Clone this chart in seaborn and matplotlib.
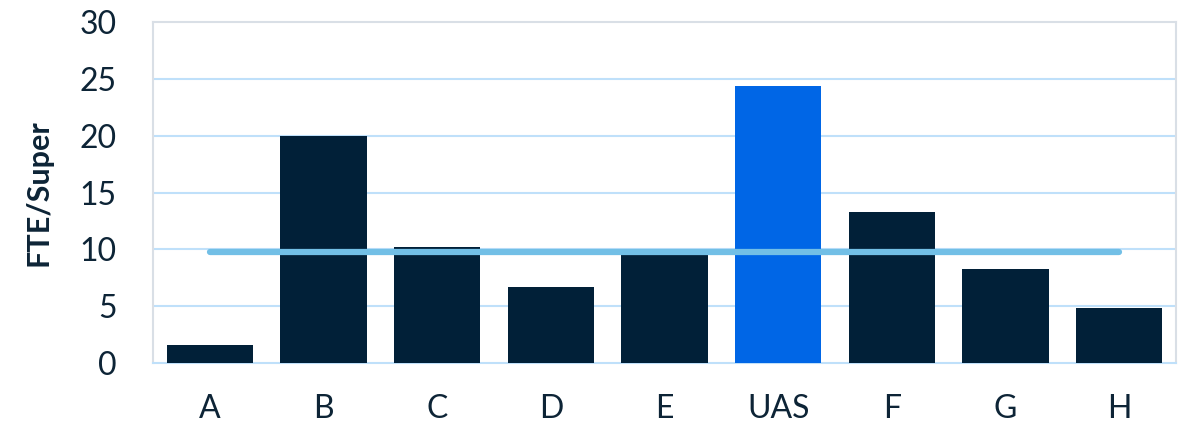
import matplotlib
matplotlib.use("Agg")
import matplotlib.pyplot as plt
import seaborn as sns
import pandas as pd

# Données
categories = ['A', 'B', 'C', 'D', 'E', 'UAS', 'F', 'G', 'H']
fte_per_super = [1.6, 20.0, 10.2, 6.7, 9.6, 24.4, 13.3, 8.3, 4.8]
average = 9.8
y_ticks = [0, 5, 10, 15, 20, 25, 30]

navy = '#012038'
highlight = '#0066e6'
text_color = '#0d2436'

sns.set_theme(style='white')
plt.rcParams['font.family'] = ['Lato', 'DejaVu Sans']

df = pd.DataFrame({'cat': categories, 'val': fte_per_super})
colors = {c: (highlight if c == 'UAS' else navy) for c in categories}

fig, ax = plt.subplots(figsize=(11.8, 4.29), dpi=100)
fig.subplots_adjust(left=0.1297, right=0.9966, bottom=0.1538, top=0.9487)

sns.barplot(data=df, x='cat', y='val', hue='cat', palette=colors, legend=False,
            width=0.76, saturation=1, linewidth=0, ax=ax, zorder=3)

# Ligne de moyenne
ax.plot(range(len(categories)), [average] * len(categories), color='#72bfe6',
        linewidth=4.5, solid_capstyle='round', zorder=4)

ax.set_ylim(0, 30)
ax.set_xlim(-0.5, len(categories) - 0.5)
ax.set_yticks(y_ticks)
for t in y_ticks[1:-1]:
    ax.axhline(t, color='#bfe0fa', linewidth=1.5, zorder=1)

for side in ['left', 'top', 'right']:
    ax.spines[side].set_color('#d9dfe6')
    ax.spines[side].set_linewidth(1.5)
ax.spines['bottom'].set_color('#bfe0fa')
ax.spines['bottom'].set_linewidth(1.5)

ax.tick_params(axis='both', length=0, labelsize=23, colors=text_color)
ax.tick_params(axis='y', pad=26)
ax.tick_params(axis='x', pad=22)
ax.set_xlabel('')
ax.set_ylabel('FTE/Super', fontsize=22, fontweight='bold', color=text_color, labelpad=20)

fig.savefig('out.png', dpi=100)
